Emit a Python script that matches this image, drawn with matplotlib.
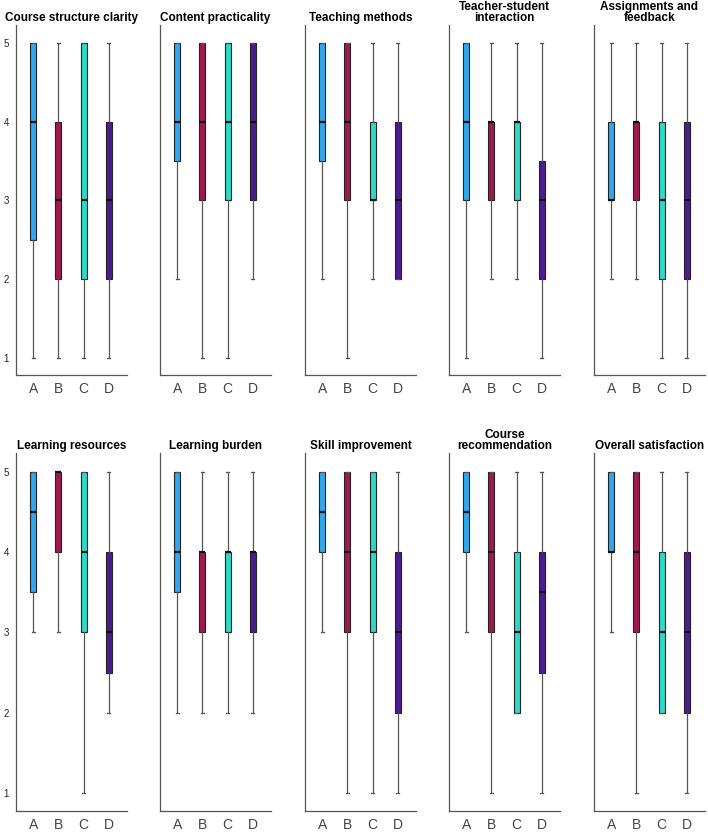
import numpy as np
import matplotlib
matplotlib.use('Agg')
import matplotlib.pyplot as plt

plt.rcParams['font.family'] = ['Liberation Sans', 'DejaVu Sans']

# Названия панелей и группы
titles = ['Course structure clarity', 'Content practicality', 'Teaching methods',
          'Teacher-student\ninteraction', 'Assignments and\nfeedback',
          'Learning resources', 'Learning burden', 'Skill improvement',
          'Course\nrecommendation', 'Overall satisfaction']
groups = ['A', 'B', 'C', 'D']
colors = ['#2ea8f0', '#9e1a4f', '#2ed9c8', '#4a1e8f']

# Статистики боксплотов: нижний ус, Q1, медиана, Q3, верхний ус
whislo = [[1, 1, 1, 1], [2, 1, 1, 2], [2, 1, 2, 2], [1, 2, 2, 1], [2, 2, 1, 1],
          [3, 3, 1, 2], [2, 2, 2, 2], [3, 1, 1, 1], [3, 1, 2, 1], [3, 1, 2, 1]]
q1 = [[2.5, 2, 2, 2], [3.5, 3, 3, 3], [3.5, 3, 3, 2], [3, 3, 3, 2], [3, 3, 2, 2],
      [3.5, 4, 3, 2.5], [3.5, 3, 3, 3], [4, 3, 3, 2], [4, 3, 2, 2.5], [4, 3, 2, 2]]
med = [[4, 3, 3, 3], [4, 4, 4, 4], [4, 4, 3, 3], [4, 4, 4, 3], [3, 4, 3, 3],
       [4.5, 5, 4, 3], [4, 4, 4, 4], [4.5, 4, 4, 3], [4.5, 4, 3, 3.5], [4, 4, 3, 3]]
q3 = [[5, 4, 5, 4], [5, 5, 5, 5], [5, 5, 4, 4], [5, 4, 4, 3.5], [4, 4, 4, 4],
      [5, 5, 5, 4], [5, 4, 4, 4], [5, 5, 5, 4], [5, 5, 4, 4], [5, 5, 4, 4]]
whishi = [[5, 5, 5, 5], [5, 5, 5, 5], [5, 5, 5, 5], [5, 5, 5, 5], [5, 5, 5, 5],
          [5, 5, 5, 5], [5, 5, 5, 5], [5, 5, 5, 5], [5, 5, 5, 5], [5, 5, 5, 5]]

W, H = 708, 832
fig = plt.figure(figsize=(W / 100, H / 100), dpi=100)

lefts = [16, 160, 305, 449, 594]
tops = [25, 453]
bottoms = [375, 811]
aw = 111

for k in range(10):
    r, c = divmod(k, 5)
    ax = fig.add_axes([lefts[c] / W, 1 - bottoms[r] / H, aw / W, (bottoms[r] - tops[r]) / H])
    stats = []
    for j in range(4):
        stats.append(dict(med=med[k][j], q1=q1[k][j], q3=q3[k][j],
                          whislo=whislo[k][j], whishi=whishi[k][j], fliers=[]))
    bp = ax.bxp(stats, positions=np.arange(1, 5), widths=0.24, capwidths=0.12,
                patch_artist=True, showfliers=False,
                boxprops=dict(edgecolor='#222222', linewidth=0.8),
                medianprops=dict(color='#111111', linewidth=1.6),
                whiskerprops=dict(color='#555555', linewidth=0.9),
                capprops=dict(color='#555555', linewidth=0.9))
    for patch, col in zip(bp['boxes'], colors):
        patch.set_facecolor(col)
    ax.set_xlim(0.32, 4.72)
    ax.set_ylim(0.78, 5.23)
    ax.set_xticks(np.arange(1, 5))
    ax.set_xticklabels(groups, fontsize=10, color='#444444')
    ax.set_yticks([1, 2, 3, 4, 5])
    if c == 0:
        ax.set_yticklabels(['1', '2', '3', '4', '5'], fontsize=7, color='#222222')
    else:
        ax.set_yticklabels([])
    ax.tick_params(length=0, pad=5)
    for s in ['top', 'right']:
        ax.spines[s].set_visible(False)
    for s in ['left', 'bottom']:
        ax.spines[s].set_color('#555555')
        ax.spines[s].set_linewidth(0.9)
    ax.set_title(titles[k], fontsize=8.5, fontweight='bold', pad=3, linespacing=0.85)

fig.savefig('out.png', dpi=100)
